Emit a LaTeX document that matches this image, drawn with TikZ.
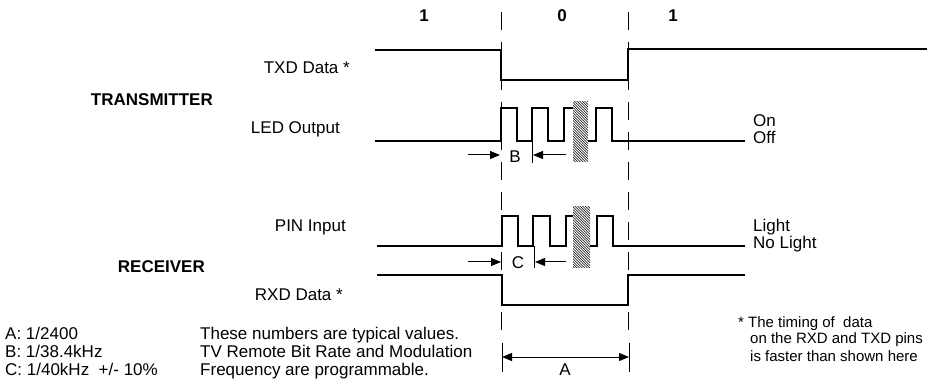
\documentclass[tikz,border=0pt]{standalone}
\usepackage{fontspec}
\setmainfont{Liberation Sans}
\usetikzlibrary{arrows.meta}
\begin{document}
\begin{tikzpicture}[x=1pt,y=-1pt,
  sig/.style={line width=1.2pt,line join=miter},
  guide/.style={line width=0.9pt,dash pattern=on 18pt off 12pt},
  tick/.style={line width=0.9pt},
  arr/.style={line width=1pt,-{Triangle[length=10pt,width=8pt]}},
  dimarr/.style={line width=1pt,{Triangle[length=10pt,width=8pt]}-{Triangle[length=10pt,width=8pt]}},
  lbl/.style={font=\fontsize{17}{18}\selectfont,inner sep=0pt},
  nlbl/.style={font=\fontsize{15}{17}\selectfont,inner sep=0pt},
  blbl/.style={font=\fontsize{17}{18}\selectfont\bfseries,inner sep=0pt},
  hatchline/.style={line width=0.55pt}]
\useasboundingbox (0,0) rectangle (927,382);

% bit labels
\node[blbl,anchor=base] (b1) at (424,22) {1};
\node[blbl,anchor=base] (b0) at (562,22) {0};
\node[blbl,anchor=base] (b2) at (673,22) {1};

% guides
\coordinate (gLt) at (501,12);
\coordinate (gLb) at (501,338);
\coordinate (gRt) at (628,12);
\coordinate (gRb) at (628,338);
\draw[guide] (gLt) -- (gLb);
\draw[guide] (gRt) -- (gRb);

% TXD
\draw[sig] (375,50) -- (501,50) -- (501,80) -- (628,80) -- (628,49) -- (927,49);
\node[lbl,anchor=base east] (txd) at (350,74) {TXD Data *};
\node[blbl,anchor=base east] (tx) at (213,106) {TRANSMITTER};

% LED
\draw[sig] (375,141) -- (501,141) -- (501,108) -- (517,108) -- (517,141) -- (532,141)
  -- (532,108) -- (548,108) -- (548,141) -- (564,141) -- (564,108) -- (575,108);
\draw[sig] (586,141) -- (596,141) -- (596,108) -- (612,108) -- (612,141) -- (745,141);
\node[lbl,anchor=base east] (led) at (340,134) {LED Output};
\node[lbl,anchor=base west] (on) at (753,127) {On};
\node[lbl,anchor=base west] (off) at (753,144) {Off};
\begin{scope}
  \clip (573,102) rectangle (588,162);
  \fill[white] (573,102) rectangle (588,162);
  \foreach \i in {-70,-67.4,...,20} \draw[hatchline] (573+\i,100) -- ++(70,70);
\end{scope}

% B marker
\coordinate (bA) at (468,155);
\coordinate (bB) at (500,155);
\coordinate (bT1) at (532,141);
\coordinate (bT2) at (532,163);
\coordinate (bC) at (566,155);
\coordinate (bD) at (533,155);
\draw[arr] (bA) -- (bB);
\draw[tick] (bT1) -- (bT2);
\draw[arr] (bC) -- (bD);
\node[lbl] (B) at (515,157) {B};

% PIN
\draw[sig] (377,246) -- (502,246) -- (502,216) -- (518,216) -- (518,246) -- (533,246)
  -- (533,216) -- (550,216) -- (550,246) -- (566,246) -- (566,216) -- (575,216);
\draw[sig] (588,246) -- (597,246) -- (597,216) -- (613,216) -- (613,246) -- (745,246);
\node[lbl,anchor=base east] (pin) at (346,232) {PIN Input};
\node[lbl,anchor=base west] (light) at (753,232) {Light};
\node[lbl,anchor=base west] (nolight) at (753,249) {No Light};
\begin{scope}
  \clip (573,207) rectangle (590,268);
  \fill[white] (573,207) rectangle (590,268);
  \foreach \i in {-72,-69.4,...,20} \draw[hatchline] (573+\i,205) -- ++(72,72);
\end{scope}

% C marker
\coordinate (cA) at (468,262);
\coordinate (cB) at (501,262);
\coordinate (cT1) at (534,246);
\coordinate (cT2) at (534,268);
\coordinate (cC) at (566,262);
\coordinate (cD) at (535,262);
\draw[arr] (cA) -- (cB);
\draw[tick] (cT1) -- (cT2);
\draw[arr] (cC) -- (cD);
\node[lbl] (C) at (518,263) {C};

% RXD
\draw[sig] (377,275) -- (502,275) -- (502,305) -- (628,305) -- (628,275) -- (745,275);
\node[blbl,anchor=base east] (rx) at (205,273) {RECEIVER};
\node[lbl,anchor=base east] (rxd) at (343,301) {RXD Data *};

% A dimension
\coordinate (aT1) at (502,343);
\coordinate (aT2) at (502,372);
\coordinate (aT3) at (629,343);
\coordinate (aT4) at (629,372);
\draw[tick] (aT1) -- (aT2);
\draw[tick] (aT3) -- (aT4);
\coordinate (aL) at (502,357);
\coordinate (aR) at (629,357);
\draw[dimarr] (aL) -- (aR);
\node[lbl] (A) at (565,370) {A};

% notes
\node[lbl,anchor=base west] (n1) at (5,339) {A: 1/2400};
\node[lbl,anchor=base west] (n2) at (5,357) {B: 1/38.4kHz};
\node[lbl,anchor=base west] (n3) at (5,375) {C: 1/40kHz~ +/- 10\%};
\node[lbl,anchor=base west] (m1) at (200,339) {These numbers are typical values.};
\node[lbl,anchor=base west] (m2) at (200,357) {TV Remote Bit Rate and Modulation};
\node[lbl,anchor=base west] (m3) at (200,375) {Frequency are programmable.};
\node[nlbl,anchor=base west] (r1) at (738,327) {* The timing of~ data};
\node[nlbl,anchor=base west] (r2) at (750,344) {on the RXD and TXD pins};
\node[nlbl,anchor=base west] (r3) at (750,361) {is faster than shown here};
\end{tikzpicture}
\end{document}
